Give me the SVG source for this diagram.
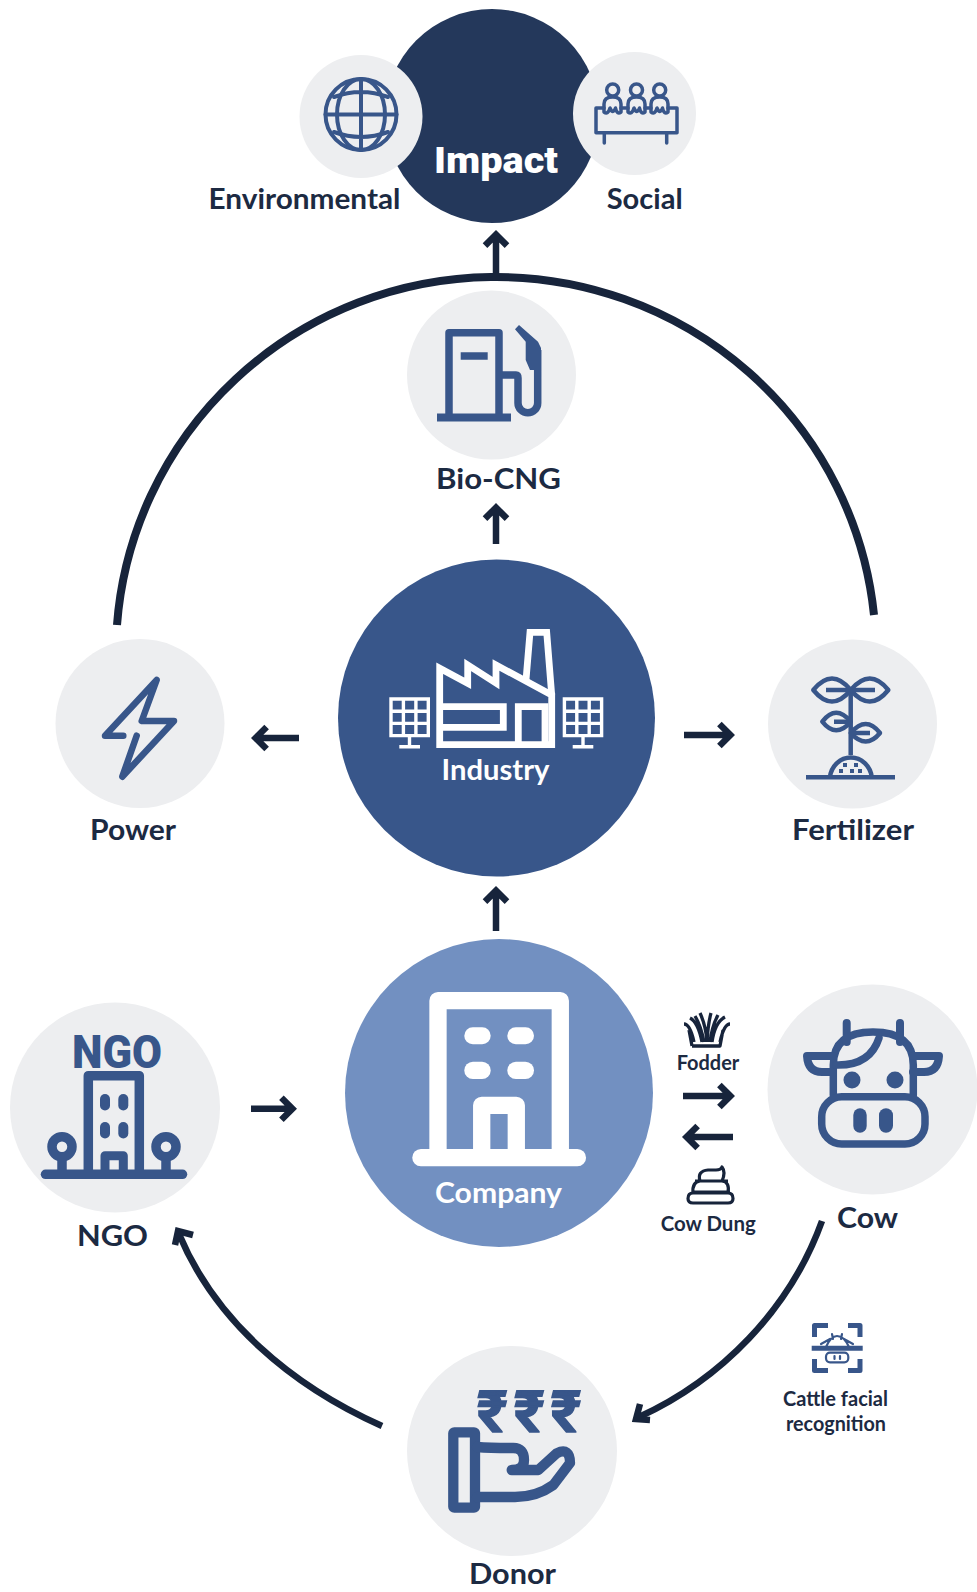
<svg xmlns="http://www.w3.org/2000/svg" width="977" height="1592" viewBox="0 0 977 1592">
<style>
text{font-family:Lato,"Liberation Sans",sans-serif;font-weight:700;fill:#1c2a42}
.lbl{font-size:28px}
.sm{font-size:20px}
.w{fill:#fff}
.g{fill:#edeef0}
.i{fill:none;stroke:#38568a;stroke-linejoin:round;stroke-linecap:round}
.f{fill:#38568a}
.iw{fill:none;stroke:#fff;stroke-linejoin:miter}
.d{fill:none;stroke:#17243b;stroke-linejoin:round}
.c{fill:none;stroke:#17243b;stroke-linejoin:miter}
.ar{fill:none;stroke:#17243b;stroke-width:6.500;stroke-linejoin:miter}
.rs{font-family:Roboto,sans-serif;font-weight:700;font-size:58px;fill:#38568a;stroke:#38568a;stroke-width:1.500}
</style>
<rect width="977" height="1592" fill="#fff"/>

<g id="impact">
<circle cx="492" cy="116" r="107" fill="#24385b"/>
<text x="496" y="173" text-anchor="middle" style="font-family:Roboto,sans-serif;font-weight:900;font-size:37.500px;fill:#fff" textLength="124" lengthAdjust="spacingAndGlyphs">Impact</text>
</g>
<g id="environmental">
<circle class="g" cx="361" cy="116.500" r="61.500"/>
<g class="i" stroke-width="4">
<circle cx="361" cy="114.500" r="35.500"/>
<ellipse cx="361" cy="114.500" rx="24" ry="35.500"/>
<path d="M361 79V150M325.500 114.500H396.500M334 97Q361 87 388 97M334 132Q361 142 388 132"/>
</g>
<text class="lbl" x="304.500" y="209" text-anchor="middle" textLength="192" lengthAdjust="spacingAndGlyphs">Environmental</text>
</g>
<g id="social">
<circle class="g" cx="634.500" cy="113.500" r="61.500"/>
<g class="i" stroke-width="3.500">
<circle cx="612.700" cy="90" r="6"/><circle cx="636.500" cy="90" r="6"/><circle cx="659.700" cy="90" r="6"/>
<path d="M604 112V104Q604 97 612.700 97Q621 97 621 104V112Q617 115 615.500 108Q613 115 610 108Q608 115 604 112Z"/>
<path d="M628 112V104Q628 97 636.500 97Q645 97 645 104V112Q641 115 639.500 108Q637 115 634 108Q632 115 628 112Z"/>
<path d="M651 112V104Q651 97 659.700 97Q668 97 668 104V112Q664 115 662.500 108Q660 115 657 108Q655 115 651 112Z"/>
<path d="M604 108H596V132.700H677V108H668M621 108H628M645 108H651M604.300 133V143M666.700 133V143"/>
</g>
<text class="lbl" x="644.700" y="209" text-anchor="middle" textLength="76" lengthAdjust="spacingAndGlyphs">Social</text>
</g>

<g id="bio-cng">
<circle class="g" cx="491.500" cy="375" r="84.500"/>
<g class="i" stroke-width="7.500" style="stroke-linecap:butt">
<path d="M449 414V332.700H499V414"/>
<path d="M437 417.500H511" stroke-width="8"/>
<path d="M460.700 356H487.700"/>
<path d="M500 375H516Q518 375 518 378V403A9.800 9.800 0 0 0 537.700 403V350"/>
</g>
<path class="f" d="M515 329.300L519 325L538 341.700L541 348V370H530L525.700 360V341.700Z"/>
<text class="lbl" x="498.500" y="488.500" text-anchor="middle" textLength="125" lengthAdjust="spacingAndGlyphs">Bio-CNG</text>
</g>

<g id="industry">
<circle cx="496.500" cy="718" r="158.500" fill="#38568a"/>
<g class="iw" stroke-width="6.800">
<path d="M439.700 744.700V668.300L467.700 683.300V665L496 683V665L551.700 695V744.700Z"/>
<path d="M526 680L530 632.300H546.700L551.700 695"/>
<path d="M439.700 706.700H503.300V727.300H439.700"/>
<path d="M518.300 744.700V706.700H545V744.700"/>
</g>
<g class="iw" stroke-width="3.400">
<path d="M391 699H428.300V735.600H391ZM403.400 699V735.600M415.900 699V735.600M391 711.200H428.300M391 723.400H428.300M409.500 737V746.700M399.300 746.700H420"/>
<path d="M564.400 699H601.600V735.600H564.400ZM576.800 699V735.600M589.200 699V735.600M564.400 711.200H601.600M564.400 723.400H601.600M583 737V746.700M572.700 746.700H593.300"/>
</g>
<text class="lbl w" x="495.500" y="780" text-anchor="middle" textLength="108" lengthAdjust="spacingAndGlyphs">Industry</text>
</g>

<g id="power">
<circle class="g" cx="140" cy="723.500" r="84.500"/>
<path class="i" stroke-width="6.500" d="M123.300 735.700H105L156.700 680L141.700 721H174L122.300 776.700L136.700 735.700"/>
<text class="lbl" x="133" y="839.500" text-anchor="middle" textLength="86" lengthAdjust="spacingAndGlyphs">Power</text>
</g>

<g id="fertilizer">
<circle class="g" cx="852.500" cy="724" r="84.500"/>
<g class="i" stroke-width="4.500" style="stroke-linecap:butt">
<path d="M850.700 690V755M806 777.300H895M830 777A21 22 0 0 1 871.700 777"/>
<path d="M813.300 690Q832 667 850.700 690Q832 713 813.300 690ZM850.700 690Q870 667 888.300 690Q870 713 850.700 690Z"/>
<path d="M822.300 721.700Q836 704 850.700 721.700Q836 739 822.300 721.700ZM850.700 733Q866 715 880 733Q866 750 850.700 733Z"/>
<path d="M826 690H875M834 721.700H850M852 733H870"/>
</g>
<g class="f"><rect x="843" y="763" width="4" height="4"/><rect x="854" y="763" width="4" height="4"/><rect x="839" y="769" width="4" height="4"/><rect x="850" y="769" width="4" height="4"/><rect x="858" y="769" width="4" height="4"/></g>
<text class="lbl" x="853" y="839.500" text-anchor="middle" textLength="122" lengthAdjust="spacingAndGlyphs">Fertilizer</text>
</g>

<g id="company">
<circle cx="499" cy="1093" r="154" fill="#7290c1"/>
<g class="iw" stroke-width="17.300" style="stroke-linejoin:round">
<path d="M438 1155V1000.700H560.300V1155"/>
<path d="M481.700 1155V1105.300H516.300V1155"/>
<path d="M420.900 1157.700H577.400" stroke-linecap="round"/>
</g>
<g fill="#fff">
<rect x="464.300" y="1027.300" width="26.400" height="17" rx="8.500"/>
<rect x="507.300" y="1027.300" width="26.700" height="17" rx="8.500"/>
<rect x="464.300" y="1061.700" width="26.400" height="17.300" rx="8.600"/>
<rect x="507.300" y="1061.700" width="26.700" height="17.300" rx="8.600"/>
</g>
<text class="lbl w" x="498.500" y="1202.500" text-anchor="middle" textLength="127" lengthAdjust="spacingAndGlyphs">Company</text>
</g>

<g id="ngo">
<circle class="g" cx="115" cy="1107.500" r="105"/>
<text x="117" y="1068" text-anchor="middle" style="font-family:Roboto,sans-serif;font-weight:900;font-size:46px;fill:#38568a" textLength="90" lengthAdjust="spacingAndGlyphs">NGO</text>
<g class="i" stroke-width="9.500">
<path d="M88.300 1170V1075.700H139.300V1170" style="stroke-linecap:butt"/>
<path d="M45.500 1174.300H182.500"/>
<path d="M105 1170V1155.700H123.300V1170" style="stroke-linecap:butt" stroke-width="9"/>
<circle cx="62" cy="1146.700" r="10"/><circle cx="166" cy="1146.700" r="10"/>
<path d="M62 1157V1172M166 1157V1172" style="stroke-linecap:butt"/>
</g>
<g class="f">
<rect x="100" y="1094" width="10" height="16.500" rx="5"/><rect x="118.300" y="1094" width="10" height="16.500" rx="5"/>
<rect x="100" y="1122" width="10" height="16.500" rx="5"/><rect x="118.300" y="1122" width="10" height="16.500" rx="5"/>
</g>
<text class="lbl" x="112.500" y="1246" text-anchor="middle" textLength="71" lengthAdjust="spacingAndGlyphs">NGO</text>
</g>

<g id="cow">
<circle class="g" cx="872.500" cy="1089.500" r="105"/>
<g class="i" stroke-width="7.500">
<path d="M833.300 1095V1065Q833.300 1032 873 1032Q913.300 1032 913.300 1065V1095"/>
<rect x="821.700" y="1096.700" width="103.300" height="47.300" rx="20"/>
<path d="M846.700 1023V1042M900 1023V1042" stroke-width="8"/>
<path d="M833 1056H807Q808 1072 822 1072H833M913 1056H939Q938 1072 924 1072H913" stroke-width="8"/>
<path d="M879 1038Q870 1066 836 1065"/>
</g>
<g class="f">
<circle cx="852" cy="1080" r="8.500"/><circle cx="895" cy="1080" r="8.500"/>
<rect x="853.300" y="1108.300" width="13.400" height="24.400" rx="6.700"/><rect x="879" y="1108.300" width="14" height="24.400" rx="7"/>
</g>
<text class="lbl" x="867.500" y="1228" text-anchor="middle" textLength="61" lengthAdjust="spacingAndGlyphs">Cow</text>
</g>

<g id="donor">
<circle class="g" cx="512" cy="1451" r="105"/>
<text class="rs" x="492.300" y="1432" text-anchor="middle">₹</text>
<text class="rs" x="529.300" y="1432" text-anchor="middle">₹</text>
<text class="rs" x="566" y="1432" text-anchor="middle">₹</text>
<g class="i" stroke-width="10.300">
<rect x="453.300" y="1432.300" width="21.700" height="75.400" rx="1"/>
<path d="M477 1447Q490 1448 513.300 1448Q524 1448 524 1460Q524 1470 511.700 1470H538.300L556.700 1453.300Q570 1447 570 1463L553.300 1485Q536.700 1497 515 1497H477"/>
</g>
<text class="lbl" x="512.500" y="1584" text-anchor="middle" textLength="87" lengthAdjust="spacingAndGlyphs">Donor</text>
</g>

<g id="fodder">
<g class="d" stroke-width="3.300">
<path d="M692 1046H720L723 1030M692 1046L689 1030M684 1024Q690 1024 694 1042M730 1024Q724 1024 720 1042M690 1018Q698 1022 702 1042M725 1017Q715 1022 712 1042M700 1013Q706 1026 707 1042M711 1013Q708 1024 707 1042M695 1016Q701 1026 704 1042M718 1015Q712 1026 710 1042"/>
</g>
<text class="sm" x="708" y="1069.500" text-anchor="middle" textLength="62.600" lengthAdjust="spacingAndGlyphs">Fodder</text>
</g>
<g id="cow-dung">
<g class="d" stroke-width="3.200">
<path d="M693 1193H728Q733 1193 733 1198.500Q733 1203 728 1203H693Q688 1203 688 1198.500Q688 1193 693 1193Z"/>
<path d="M693 1193Q692 1182 700 1181H722Q730 1182 728 1193M700 1181Q697 1171 708 1170H716Q721 1170 722 1167Q726 1172 722 1181M695 1181H728M692 1192H730"/>
</g>
<text class="sm" x="708.200" y="1230.500" text-anchor="middle" textLength="95" lengthAdjust="spacingAndGlyphs">Cow Dung</text>
</g>
<g id="cattle-recognition">
<g class="i" stroke-width="5" style="stroke-linecap:butt;stroke-linejoin:round">
<path d="M828 1325.500H814.500V1337M848 1325.500H860V1337M814.500 1359V1370.500H828M860 1359V1370.500H848"/>
<path d="M811.700 1348.300H862.700"/>
</g>
<g class="i" stroke-width="2.200">
<path d="M826 1347Q831 1336 837 1336Q844 1336 849 1347M833 1339L832 1334M841 1339L842 1334M821 1344L830 1339M853 1344L844 1339"/>
<rect x="826" y="1352.700" width="22.300" height="9.600" rx="4"/>
<path d="M834.500 1356V1359M840 1356V1359"/>
</g>
<text class="sm" x="835.500" y="1405.500" text-anchor="middle" textLength="105" lengthAdjust="spacingAndGlyphs">Cattle facial</text>
<text class="sm" x="836" y="1430.500" text-anchor="middle" textLength="100" lengthAdjust="spacingAndGlyphs">recognition</text>
</g>

<g id="connectors">
<path class="c" stroke-width="8" d="M117 625A380 376 0 0 1 874 615"/>
<path class="ar" d="M496 277V236M485 245.600L496 234.600L507 245.600"/>
<path class="ar" d="M496 544V509M485 518.600L496 507.600L507 518.600"/>
<path class="ar" d="M299 738H257M266.600 727L255.600 738L266.600 749"/>
<path class="ar" d="M684 735H729M719.400 724L730.400 735L719.400 746"/>
<path class="ar" d="M496 931V892M485 901.600L496 890.600L507 901.600"/>
<path class="ar" d="M251 1108.700H291M281.400 1097.700L292.400 1108.700L281.400 1119.700"/>
<path class="ar" d="M683 1096H729M719.400 1085L730.400 1096L719.400 1107"/>
<path class="ar" d="M733 1137H688M697.600 1126L686.600 1137L697.600 1148"/>
<path class="c" stroke-width="6.500" d="M822 1221C790 1310 720 1380 639 1417"/>
<path class="c" stroke-width="6.500" d="M640 1404L636 1419L650 1420"/>
<path class="c" stroke-width="6.500" d="M382 1426C290 1385 215 1320 179 1234"/>
<path class="c" stroke-width="6.500" d="M175 1245L178 1231L193 1235"/>
</g>
</svg>
